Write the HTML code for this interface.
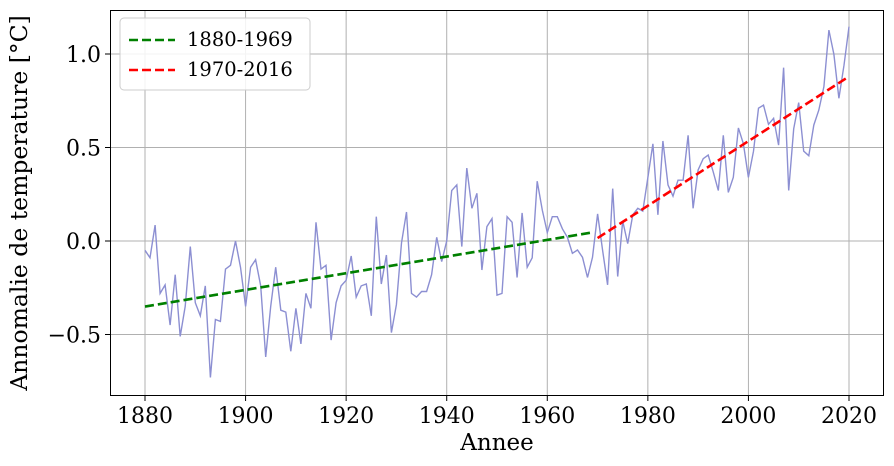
<!DOCTYPE html>
<html><head><meta charset="utf-8"><style>
body{margin:0;background:#fff}
svg{display:block;font-family:"DejaVu Serif","Liberation Serif",serif}
</style></head><body>
<svg id="chart" width="894" height="466"></svg>
<script>
const years=[];for(let y=1880;y<=2020;y++)years.push(y);
const anomalies=[-0.05,-0.09,0.085,-0.28,-0.235,-0.45,-0.18,-0.51,-0.35,-0.03,
-0.33,-0.40,-0.24,-0.73,-0.42,-0.43,-0.15,-0.13,0.0,-0.14,
-0.35,-0.14,-0.10,-0.24,-0.62,-0.35,-0.14,-0.37,-0.38,-0.59,
-0.36,-0.55,-0.28,-0.36,0.10,-0.15,-0.13,-0.53,-0.33,-0.24,
-0.21,-0.08,-0.30,-0.24,-0.23,-0.40,0.13,-0.23,-0.075,-0.49,
-0.34,-0.01,0.155,-0.28,-0.30,-0.27,-0.27,-0.18,0.02,-0.11,
0.0,0.27,0.30,-0.03,0.39,0.175,0.255,-0.155,0.077,0.12,
-0.29,-0.28,0.13,0.10,-0.195,0.15,-0.14,-0.09,0.32,0.165,
0.045,0.13,0.13,0.065,0.02,-0.066,-0.048,-0.087,-0.195,-0.087,
0.145,-0.05,-0.235,0.28,-0.19,0.107,-0.014,0.14,0.175,0.16,
0.34,0.52,0.14,0.535,0.30,0.24,0.325,0.325,0.565,0.175,
0.38,0.44,0.46,0.37,0.27,0.565,0.26,0.34,0.605,0.52,
0.34,0.48,0.71,0.727,0.624,0.656,0.513,0.927,0.27,0.60,
0.74,0.48,0.456,0.62,0.70,0.825,1.128,0.998,0.763,0.94,1.146];
const xTicks=[1880,1900,1920,1940,1960,1980,2000,2020];
const yTicks=[-0.5,0.0,0.5,1.0];
const periods=[[1880,1969],[1970,2020]];
const periodColors=["#008000","#ff0000"];
const periodLabels=["1880-1969","1970-2016"];

const L=110,R=884,T=10,B=396;
const X=y=>145+(y-1880)*(704/140);
const Y=v=>241-v*187;
const NS="http://www.w3.org/2000/svg";
const svg=document.getElementById('chart');
function mk(t,a,p){const e=document.createElementNS(NS,t);for(const k in a)e.setAttribute(k,a[k]);(p||svg).appendChild(e);return e;}

xTicks.forEach(t=>{const l=mk('line',{x1:X(t),x2:X(t),y1:T,y2:B,stroke:'#b0b0b0','stroke-width':1});

});
yTicks.forEach(t=>{const l=mk('line',{x1:L,x2:R,y1:Y(t),y2:Y(t),stroke:'#b0b0b0','stroke-width':1});

});

const pts=years.map((y,i)=>X(y).toFixed(1)+','+Y(anomalies[i]).toFixed(1)).join(' ');
const s=mk('polyline',{points:pts,fill:'none',stroke:'#8c8fd2','stroke-width':1.4});



periods.forEach((p,k)=>{
  let xs=[],ys=[];years.forEach((y,i)=>{if(y>=p[0]&&y<=p[1]){xs.push(y);ys.push(anomalies[i]);}});
  const n=xs.length,mx=xs.reduce((a,b)=>a+b)/n,my=ys.reduce((a,b)=>a+b)/n;
  let num=0,den=0;xs.forEach((x,i)=>{num+=(x-mx)*(ys[i]-my);den+=(x-mx)*(x-mx);});
  const b=num/den,a=my-b*mx;
  const x1=p[0],x2=p[1];
  const l=mk('line',{x1:X(x1),y1:Y(a+b*x1),x2:X(x2),y2:Y(a+b*x2),stroke:periodColors[k],'stroke-width':2.6,'stroke-dasharray':'9,4'});
  
  
});

const f=mk('rect',{x:L+.5,y:T+.5,width:R-L-1,height:B-T-1,fill:'none',stroke:'#000','stroke-width':1});



xTicks.forEach(t=>{mk('line',{x1:X(t),x2:X(t),y1:B,y2:B+5,stroke:'#000'});
const tx=mk('text',{x:X(t),y:B+27,'text-anchor':'middle','font-size':22});tx.textContent=t;

});
yTicks.forEach(t=>{mk('line',{x1:L-5,x2:L,y1:Y(t),y2:Y(t),stroke:'#000'});
const tx=mk('text',{x:L-9,y:Y(t)+8,'text-anchor':'end','font-size':22});tx.textContent=(t<0?'\u2212':'')+Math.abs(t).toFixed(1);

});

const xl=mk('text',{x:497,y:450,'text-anchor':'middle','font-size':23});xl.textContent='Annee';


const yl=mk('text',{x:0,y:0,'text-anchor':'middle','font-size':23.5,transform:'translate(27,203) rotate(-90)'});yl.textContent='Annomalie de temperature [°C]';



const lg=mk('g',{});


mk('rect',{x:120,y:18,width:190,height:72,rx:4,fill:'#fff','fill-opacity':0.85,stroke:'#ccc'},lg);
periodLabels.forEach((lb,k)=>{
  const yy=40+k*30;
  const e=mk('line',{x1:129,x2:175,y1:yy,y2:yy,stroke:periodColors[k],'stroke-width':2.6,'stroke-dasharray':'9,4'},lg);
  
  
  const t=mk('text',{x:187,y:yy+6,'font-size':19.5},lg);t.textContent=lb;
  
  
});
</script>
</body></html>
